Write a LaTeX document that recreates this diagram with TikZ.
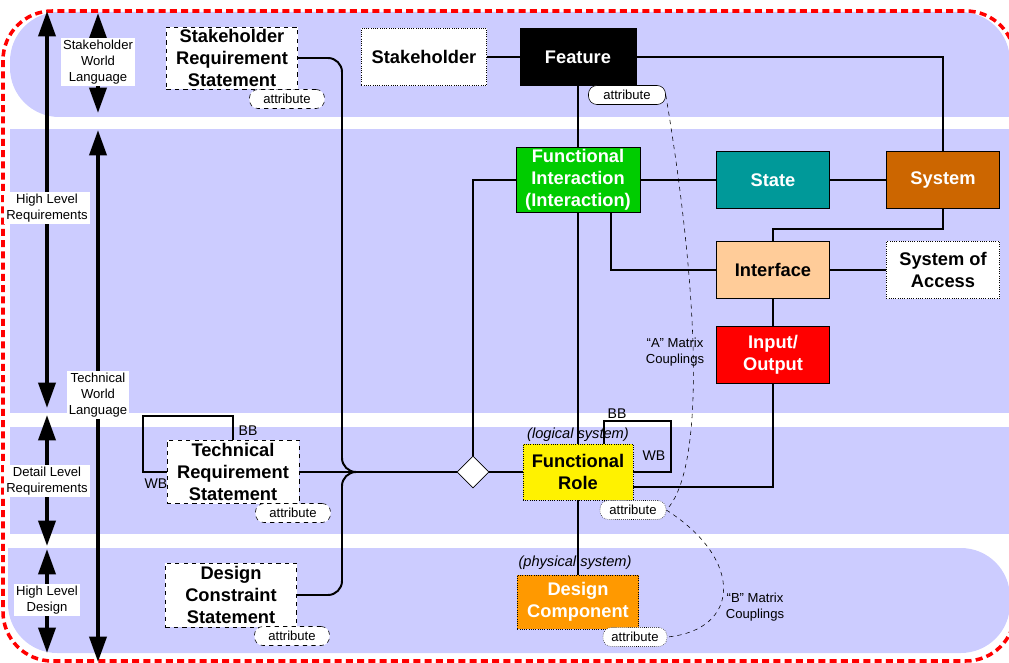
\documentclass[tikz,border=0pt]{standalone}
\usepackage{fontspec}
\setmainfont{Liberation Sans}
\usepackage{tikz}
\usetikzlibrary{calc}
\usetikzlibrary{arrows.meta}
\usetikzlibrary{shapes.geometric}
\definecolor{bandblue}{HTML}{CCCCFF}
\definecolor{fgreen}{HTML}{00CC00}
\definecolor{fteal}{HTML}{009999}
\definecolor{fbrown}{HTML}{CC6600}
\definecolor{fpeach}{HTML}{FFCC99}
\definecolor{forange}{HTML}{FF9900}
\tikzset{
	blk/.style={draw, line width=0.6pt, align=center, inner sep=1pt,
		font=\bfseries\fontsize{13}{15.6}\selectfont,
		minimum width=2.825cm, minimum height=1.425cm},
	stmt/.style={blk, fill=white, dashed},
	attr/.style={draw, fill=white, rounded corners=6pt, inner sep=1pt,
		font=\fontsize{9.3}{11}\selectfont,
		minimum width=1.875cm, minimum height=0.475cm},
	lbl/.style={fill=white, align=center, inner sep=1.5pt,
		font=\fontsize{9.3}{11.4}\selectfont},
	side/.style={font=\fontsize{10}{12}\selectfont, inner sep=0pt},
	lvl/.style={line width=2.8pt, {Triangle[width=12pt,length=18pt]}-{Triangle[width=12pt,length=18pt]}},
	link/.style={line width=1.4pt},
}
\begin{document}
\begin{tikzpicture}[x=0.025cm,y=-0.025cm]
	\useasboundingbox (0,0) rectangle (1009,663);
	% bands
	\fill[bandblue,rounded corners=35] (10,12) rectangle (1010,117);
	\fill[bandblue] (900,60) rectangle (1010,117);
	\fill[bandblue] (10,129) rectangle (1009,413);
	\fill[bandblue] (10,427) rectangle (1009,534);
	\fill[bandblue,rounded corners=35] (8,548) rectangle (1010,653);
	\fill[bandblue] (8,548) rectangle (60,600);
	\draw[red,line width=2.5pt,dash pattern=on 5pt off 3pt,rounded corners=35] (3,11) rectangle (1015,661);
	% levels
	\draw[lvl] (47,11) -- (47,408);
	\draw[lvl] (47,415) -- (47,546);
	\draw[lvl] (47,549) -- (47,653);
	\draw[lvl] (98,13) -- (98,113);
	\draw[lvl] (98,130) -- (98,662);
	\node[lbl] (hlr) at (47,208) {High Level\\Requirements};
	\node[lbl] (dlr) at (47,481) {Detail Level\\Requirements};
	\node[lbl] (hld) at (47,600) {High Level\\Design};
	\node[lbl] (swl) at (98,62) {Stakeholder\\World\\Language};
	\node[lbl] (twl) at (98,395) {Technical\\World\\Language};
	% boxes
	\node[stmt,minimum width=3.275cm,minimum height=1.55cm] (srs) at (232,58) {Stakeholder\\Requirement\\Statement};
	\node[attr,dashed] (srsat) at (287,99) {attribute};
	\node[blk,fill=white,densely dotted,minimum width=3.125cm] (stk) at (424,57) {Stakeholder};
	\node[blk,fill=black,text=white,minimum width=2.9cm] (feat) at (578,57) {Feature};
	\node[attr,minimum width=1.925cm] (featat) at (627,95) {attribute};
	\node[blk,fill=fgreen,text=white,minimum width=3.1cm,minimum height=1.625cm] (fi) at (578,180) {Functional\\Interaction\\(Interaction)};
	\node[blk,fill=fteal,text=white] (state) at (773,180) {State};
	\node[blk,fill=fbrown,text=white] (sys) at (943,180) {System};
	\node[blk,fill=fpeach] (intf) at (773,270) {Interface};
	\node[blk,fill=white,densely dotted] (soa) at (943,270) {System of\\Access};
	\node[blk,fill=red,text=white] (io) at (773,355) {Input/\\Output};
	\node[blk,fill=yellow,densely dotted,minimum width=2.75cm,minimum height=1.4cm] (fr) at (578,472) {Functional\\Role};
	\node[font=\itshape\fontsize{10.4}{12}\selectfont] (logi) at (578,435) {(logical system)};
	\node[attr,densely dotted,minimum width=1.65cm] (frat) at (633,510) {attribute};
	\node[stmt,minimum width=3.3cm,minimum height=1.575cm] (trs) at (233,472) {Technical\\Requirement\\Statement};
	\node[attr,dashed] (trsat) at (293,513) {attribute};
	\node[stmt,minimum width=3.275cm,minimum height=1.6cm] (dcs) at (231,595) {Design\\Constraint\\Statement};
	\node[attr,dashed] (dcsat) at (292,636) {attribute};
	\node[blk,fill=forange,text=white,densely dotted,minimum width=3.025cm,minimum height=1.35cm] (dc) at (578,602) {Design\\Component};
	\node[font=\itshape\fontsize{10.4}{12}\selectfont] (phys) at (575,563) {(physical system)};
	\node[attr,densely dotted,minimum width=1.6cm] (dcat) at (635,637) {attribute};
	\node[diamond,draw,fill=white,inner sep=0pt,minimum size=0.8cm] (dmd) at (473,472) {};
	\node[lbl,fill=none] (amx) at (675,352) {“A” Matrix\\Couplings};
	\node[lbl,fill=none] (bmx) at (755,607) {“B” Matrix\\Couplings};
	% links
	\draw[link] (stk) -- (feat);
	\draw[link] (feat.east) -| (sys.north);
	\draw[link] (feat) -- (fi);
	\draw[link] (fi.west) -| (dmd.north);
	\draw[link] (fi) -- (state);
	\draw[link] (state) -- (sys);
	\draw[link] ($(fi.south)!0.53!(fi.south east)$) |- (intf.west);
	\draw[link] (fi) -- (fr);
	\draw[link] (sys.south) -- ++(0,20) -| (intf.north);
	\draw[link] (intf) -- (soa);
	\draw[link] (intf) -- (io);
	\draw[link] (io.south) |- ($(fr.east)+(0,15)$);
	\draw[link] ($(fr.north)+(26,0)$) |- (671,421) |- (fr.east);
	\node[side] (frbb) at (617,414) {BB};
	\node[side] (frwb) at (654,456) {WB};
	\draw[link] (fr) -- (dc);
	\draw[link] (dmd) -- (fr);
	\draw[link] (trs) -- (dmd);
	\draw[link,rounded corners=10pt] (srs.east) -| (342,472) -- (dmd.west);
	\draw[link,rounded corners=10pt] (dcs.east) -| (342,472) -- (dmd.west);
	\draw[link] (trs.north) |- (143,416) |- (trs.west);
	\node[side] (trsbb) at (248,431) {BB};
	\node[side] (trswb) at (156,484) {WB};
	\draw[dashed,thin] (featat.east) .. controls (700,300) and (705,470) .. (frat.east);
	\draw[dashed,thin] (frat.east) .. controls (745,560) and (740,630) .. (dcat.east);
\end{tikzpicture}
\end{document}
